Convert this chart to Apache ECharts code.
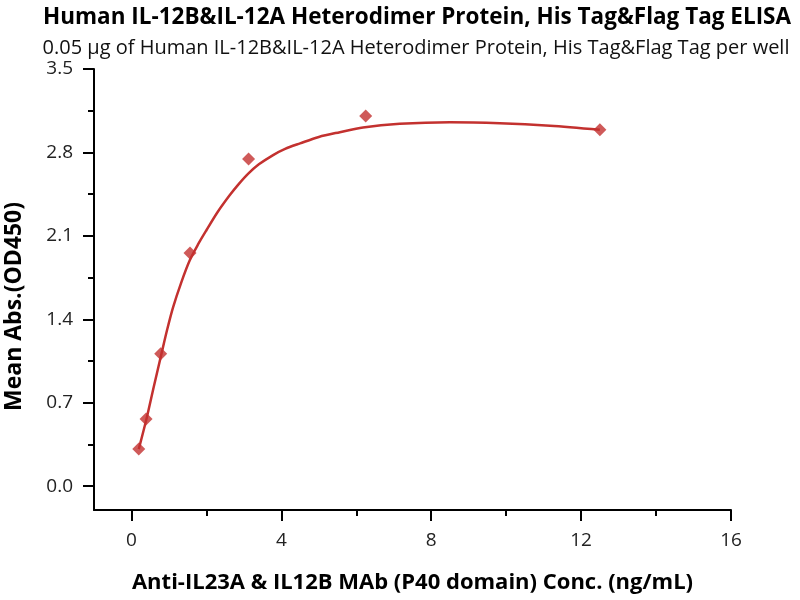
<!DOCTYPE html>
<html>
<head>
<meta charset="utf-8">
<script src="https://cdn.jsdelivr.net/npm/echarts@6/dist/echarts.min.js"></script>
<style>html,body{margin:0;padding:0;background:#fff}#main{width:800px;height:600px}</style>
</head>
<body>
<div id="main"></div>
<script>
// Measured data points
const concX = [0.195, 0.39, 0.78, 1.5625, 3.125, 6.25, 12.5];
const meanAbs = [0.311, 0.563, 1.11, 1.956, 2.744, 3.106, 2.99];
// Fitted curve
const fitX = [0.195, 0.40, 0.60, 0.80, 0.95, 1.11, 1.33, 1.556, 1.78, 2.0, 2.3, 2.62, 2.85, 3.11, 3.4, 3.78, 4.1, 4.5, 5.0, 5.56, 6.18, 7.16, 8.5, 9.83, 11.17, 12.5];
const fitY = [0.311, 0.563, 0.84, 1.11, 1.31, 1.50, 1.71, 1.895, 2.03, 2.147, 2.30, 2.44, 2.53, 2.62, 2.70, 2.778, 2.83, 2.876, 2.93, 2.97, 3.01, 3.04, 3.053, 3.045, 3.024, 2.99];
// Axis ticks
const xMajorTicks = [0, 4, 8, 12, 16];
const xMinorTicks = [2, 6, 10, 14];
const yMajorTicks = [0, 0.7, 1.4, 2.1, 2.8, 3.5];
const yMinorTicks = [0.35, 1.05, 1.75, 2.45, 3.15];

const RED = '#c3312f';
const FONT = '"Open Sans", "Liberation Sans", sans-serif';
const chart = echarts.init(document.getElementById('main'));

const xBase = {type: 'value', min: -1, max: 16, position: 'bottom', splitLine: {show: false}};
const yBase = {type: 'value', min: -0.2, max: 3.5, position: 'left', splitLine: {show: false}};

chart.setOption({
  backgroundColor: '#fff',
  animation: false,
  title: [
    {text: 'Human IL-12B&IL-12A Heterodimer Protein, His Tag&Flag Tag ELISA', left: 412, top: 1, textAlign: 'center',
     textStyle: {fontFamily: FONT, fontWeight: 'bold', fontSize: 22.5, color: '#000'}},
    {text: '0.05 µg of Human IL-12B&IL-12A Heterodimer Protein, His Tag&Flag Tag per well', left: 411, top: 33, textAlign: 'center',
     textStyle: {fontFamily: FONT, fontWeight: 'normal', fontSize: 20, color: '#111'}}
  ],
  grid: {left: 94, right: 69, top: 69, bottom: 90, containLabel: false, outerBoundsMode: 'none'},
  xAxis: [
    Object.assign({}, xBase, {
      name: 'Anti-IL23A & IL12B MAb (P40 domain) Conc. (ng/mL)',
      nameLocation: 'middle', nameGap: 62,
      nameTextStyle: {fontFamily: FONT, fontWeight: 'bold', fontSize: 22, color: '#000'},
      axisLine: {show: true, onZero: false, lineStyle: {color: '#000', width: 2}},
      axisTick: {show: true, customValues: xMajorTicks, length: 11, lineStyle: {color: '#000', width: 2}},
      axisLabel: {show: true, customValues: xMajorTicks, margin: 21, fontFamily: FONT, fontSize: 19, color: '#222'}
    }),
    Object.assign({}, xBase, {
      axisLine: {show: false, onZero: false},
      axisTick: {show: true, customValues: xMinorTicks, length: 6, lineStyle: {color: '#000', width: 2}},
      axisLabel: {show: false}
    })
  ],
  yAxis: [
    Object.assign({}, yBase, {
      name: 'Mean Abs.(OD450)',
      nameLocation: 'middle', nameGap: 68, nameRotate: 90,
      nameTextStyle: {fontFamily: FONT, fontWeight: 'bold', fontSize: 23, color: '#000', padding: [0, 34, 0, 0]},
      axisLine: {show: true, onZero: false, lineStyle: {color: '#000', width: 2}},
      axisTick: {show: true, customValues: yMajorTicks, length: 11, lineStyle: {color: '#000', width: 2}},
      axisLabel: {show: true, customValues: yMajorTicks, margin: 21, fontFamily: FONT, fontSize: 19, color: '#222',
                  formatter: v => v.toFixed(1)}
    }),
    Object.assign({}, yBase, {
      axisLine: {show: false, onZero: false},
      axisTick: {show: true, customValues: yMinorTicks, length: 6, lineStyle: {color: '#000', width: 2}},
      axisLabel: {show: false}
    })
  ],
  series: [
    {
      type: 'line', xAxisIndex: 0, yAxisIndex: 0,
      data: fitX.map((x, i) => [x, fitY[i]]),
      smooth: 0.3, showSymbol: false, symbol: 'none',
      lineStyle: {color: RED, width: 2.5}, z: 2
    },
    {
      type: 'scatter', xAxisIndex: 0, yAxisIndex: 0,
      data: concX.map((x, i) => [x, meanAbs[i]]),
      symbol: 'diamond', symbolSize: 13,
      itemStyle: {color: RED}, z: 3
    }
  ]
});
</script>
</body>
</html>
